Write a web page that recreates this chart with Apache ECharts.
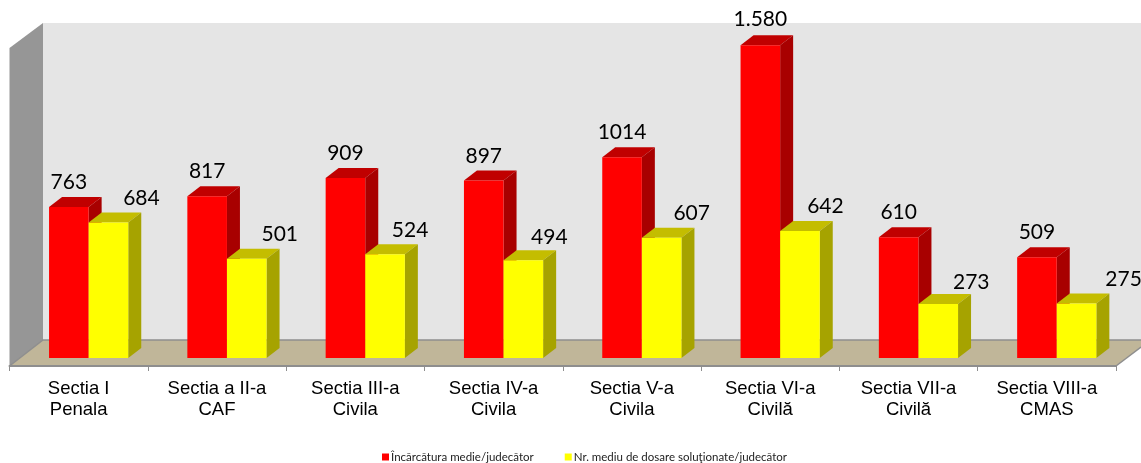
<!DOCTYPE html>
<html><head><meta charset="utf-8">
<style>html,body{margin:0;padding:0;background:#fff}#c{width:1141px;height:463px}</style>
<script src="https://cdn.jsdelivr.net/npm/echarts@6/dist/echarts.min.js"></script>
</head><body><div id="c"></div>
<script>
const categories = ['Sectia I\nPenala','Sectia a II-a\nCAF','Sectia III-a\nCivila','Sectia IV-a\nCivila','Sectia V-a\nCivila','Sectia VI-a\nCivilă','Sectia VII-a\nCivilă','Sectia VIII-a\nCMAS'];
const incarcatura = [763,817,909,897,1014,1580,610,509];
const solutionate = [684,501,524,494,607,642,273,275];
const incarcaturaLabels = ['763','817','909','897','1014','1.580','610','509'];
const solutionateLabels = ['684','501','524','494','607','642','273','275'];
const nameA = 'Încărcătura medie/judecător';
const nameB = 'Nr. mediu de dosare soluţionate/judecător';

const BAR_W = 39.6, DX = 13, DY = 10;
const LABEL_FONT = 'Lato';

function depth(slot, top, side){
  return function(params, api){
    const p = api.coord([api.value(0), api.value(1)]);
    const b = api.coord([api.value(0), 0]);
    const x0 = p[0] + slot * BAR_W, x1 = x0 + BAR_W, y = p[1], yb = b[1];
    return {type:'group', children:[
      {type:'polygon', shape:{points:[[x0,y],[x0+DX,y-DY],[x1+DX,y-DY],[x1,y]]}, style:{fill:top}},
      {type:'polygon', shape:{points:[[x1,y],[x1+DX,y-DY],[x1+DX,yb-DY],[x1,yb]]}, style:{fill:side}}
    ]};
  };
}
function barData(vals, texts, tweaks){
  return vals.map((v,i)=>{
    const t = tweaks[i] || [0,0];
    return {value:v, label:{formatter:texts[i], offset:[t[0], -14+t[1]]}};
  });
}
const labelBase = {show:true, position:'top', distance:0, fontFamily:LABEL_FONT, fontSize:21, color:'#000'};

const chart = echarts.init(document.getElementById('c'), null, {renderer:'canvas'});
chart.setOption({
  animation:false,
  backgroundColor:'#fff',
  graphic:{elements:[
    {type:'polygon', silent:true, z:-10, shape:{points:[[43,23],[1141,23],[1141,340],[43,340]]}, style:{fill:'#e5e5e5'}},
    {type:'polygon', silent:true, z:-10, shape:{points:[[9.5,48],[43,23],[43,340],[9.5,366]]}, style:{fill:'#969696'}},
    {type:'polygon', silent:true, z:-10, shape:{points:[[9.5,366],[43,340],[1141,340],[1141,347],[1116,366]]}, style:{fill:'#c0b699'}},
    {type:'polyline', silent:true, z:-9, shape:{points:[[9.5,366],[43,340],[1141,340]]}, style:{stroke:'#8e8e8e',lineWidth:1.5,fill:null}},
    {type:'line', silent:true, z:-9, shape:{x1:1116,y1:366,x2:1141,y2:347}, style:{stroke:'#8e8e8e',lineWidth:1.5}}
  ]},
  legend:{
    data:[nameA,nameB], left:377, top:446, itemWidth:7, itemHeight:7, itemGap:31, icon:'rect',
    textStyle:{fontFamily:LABEL_FONT, fontSize:11.5, color:'#222', padding:[0,0,0,-3]}
  },
  grid:[
    {left:19.5, width:1106.4, top:41.2, height:316.8},
    {left:9.5, width:1106.5, top:50, height:316}
  ],
  xAxis:[
    {type:'category', gridIndex:0, data:categories, show:false},
    {type:'category', gridIndex:1, data:categories,
     axisLine:{lineStyle:{color:'#8e8e8e',width:2}},
     axisTick:{show:true, length:5, lineStyle:{color:'#8e8e8e',width:1}},
     axisLabel:{fontFamily:'Liberation Sans', fontSize:18.5, color:'#000', lineHeight:21, margin:12, interval:0}}
  ],
  yAxis:[
    {type:'value', gridIndex:0, min:0, max:1600, show:false},
    {type:'value', gridIndex:1, min:0, max:1600, show:false}
  ],
  series:[
    {name:'a-depth', type:'custom', xAxisIndex:0, yAxisIndex:0, z:1, silent:true,
     renderItem:depth(-1,'#c00000','#a80000'), data:incarcatura.map((v,i)=>[i,v]), encode:{x:0,y:1}},
    {name:nameA, type:'bar', xAxisIndex:0, yAxisIndex:0, z:2, barWidth:BAR_W, barGap:'0%',
     itemStyle:{color:'#ff0000'}, label:labelBase,
     data:barData(incarcatura, incarcaturaLabels, {5:[0,-1]})},
    {name:'b-depth', type:'custom', xAxisIndex:0, yAxisIndex:0, z:3, silent:true,
     renderItem:depth(0,'#c4bd00','#a6a300'), data:solutionate.map((v,i)=>[i,v]), encode:{x:0,y:1}},
    {name:nameB, type:'bar', xAxisIndex:0, yAxisIndex:0, z:4, barWidth:BAR_W, barGap:'0%',
     itemStyle:{color:'#ffff00'}, label:labelBase,
     data:barData(solutionate, solutionateLabels, {0:[33,0],1:[33,0],2:[25,0],3:[26,2],4:[30,0],5:[25.5,0],6:[33,3],7:[47,0]})}
  ]
});
</script></body></html>
